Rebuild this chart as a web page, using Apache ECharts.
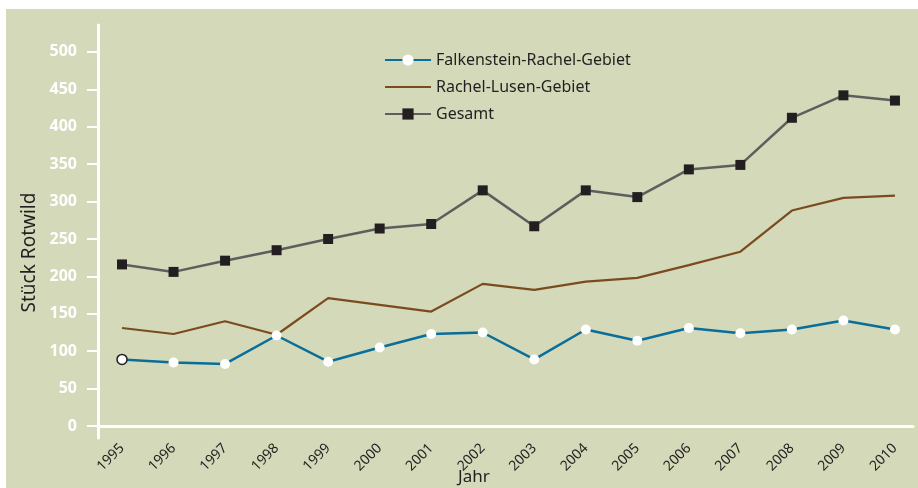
<!DOCTYPE html>
<html>
<head>
<meta charset="utf-8">
<script src="https://cdn.jsdelivr.net/npm/echarts@6/dist/echarts.min.js"></script>
<style>
  html, body { margin: 0; padding: 0; background: #fff; }
  #chart { position: absolute; left: 6px; top: 9px; width: 912px; height: 479px; background: #d4d9b9; }
</style>
</head>
<body>
<div id="chart"></div>
<script>
const years = [1995, 1996, 1997, 1998, 1999, 2000, 2001, 2002, 2003, 2004, 2005, 2006, 2007, 2008, 2009, 2010]
const falkenstein = [89, 85, 83, 121, 86, 105, 123, 125, 89, 129, 114, 131, 124, 129, 141, 129]
const rachelLusen = [131, 123, 140, 122, 171, 162, 153, 190, 182, 193, 198, 215, 233, 288, 305, 308]
const gesamt = [216, 206, 221, 235, 250, 264, 270, 315, 267, 315, 306, 343, 349, 412, 442, 435]
const yTicks = [0, 50, 100, 150, 200, 250, 300, 350, 400, 450, 500]

const font = 'Noto Sans'
const pairs = arr => arr.map((v, i) => [years[i], v])

const chart = echarts.init(document.getElementById('chart'))

const blueData = pairs(falkenstein)
// first point drawn with a dark outline
blueData[0] = { value: blueData[0], itemStyle: { borderColor: '#231f20', borderWidth: 1.5 } }

chart.setOption({
  animation: false,
  textStyle: { fontFamily: font },
  // x axis title sits under the rotated year labels
  title: {
    text: 'Jahr',
    left: 452,
    top: 460,
    padding: 0,
    textStyle: { fontFamily: font, fontSize: 17, fontWeight: 'normal', color: '#231f20' }
  },
  grid: { left: 92, right: 5, top: 16, bottom: 50, containLabel: false, outerBoundsMode: 'none' },
  legend: {
    orient: 'vertical',
    left: 373,
    top: 38,
    itemWidth: 46,
    itemHeight: 14,
    itemGap: 11,
    textStyle: { fontFamily: font, fontSize: 16, color: '#231f20' },
    data: [
      'Falkenstein-Rachel-Gebiet',
      { name: 'Rachel-Lusen-Gebiet', itemStyle: { opacity: 0 } },
      'Gesamt'
    ]
  },
  xAxis: {
    type: 'value',
    min: 1994.534,
    max: 2010.35,
    axisLine: { onZero: true, lineStyle: { color: '#fff', width: 3 } },
    axisTick: { show: false },
    splitLine: { show: false },
    axisLabel: {
      customValues: years,
      formatter: v => String(v),
      rotate: 45,
      margin: 8,
      fontSize: 14,
      color: '#231f20',
      fontFamily: font
    }
  },
  yAxis: {
    type: 'value',
    min: -16,
    max: 536,
    name: 'Stück Rotwild',
    nameLocation: 'middle',
    nameGap: 58,
    nameTextStyle: { fontFamily: font, fontSize: 19, color: '#231f20', padding: [0, 42, 0, 0] },
    axisLine: { show: true, lineStyle: { color: '#fff', width: 3 } },
    axisTick: { show: true, customValues: yTicks, length: 11, lineStyle: { color: '#fff', width: 2 } },
    splitLine: { show: false },
    axisLabel: {
      customValues: yTicks,
      margin: 21,
      fontSize: 16,
      fontWeight: 'bold',
      color: '#fff',
      fontFamily: font
    }
  },
  series: [
    {
      name: 'Falkenstein-Rachel-Gebiet',
      type: 'line',
      data: blueData,
      symbol: 'circle',
      symbolSize: 10,
      lineStyle: { color: '#0a6e9b', width: 2.5 },
      itemStyle: { color: '#fff', borderWidth: 0 },
      z: 3
    },
    {
      name: 'Rachel-Lusen-Gebiet',
      type: 'line',
      data: pairs(rachelLusen),
      symbol: 'none',
      lineStyle: { color: '#7a4b1e', width: 2.2 },
      itemStyle: { color: '#7a4b1e' },
      z: 2
    },
    {
      name: 'Gesamt',
      type: 'line',
      data: pairs(gesamt),
      symbol: 'rect',
      symbolSize: 10,
      lineStyle: { color: '#5d5f5d', width: 2.5 },
      itemStyle: { color: '#231f20' },
      z: 2
    }
  ]
})
</script>
</body>
</html>
